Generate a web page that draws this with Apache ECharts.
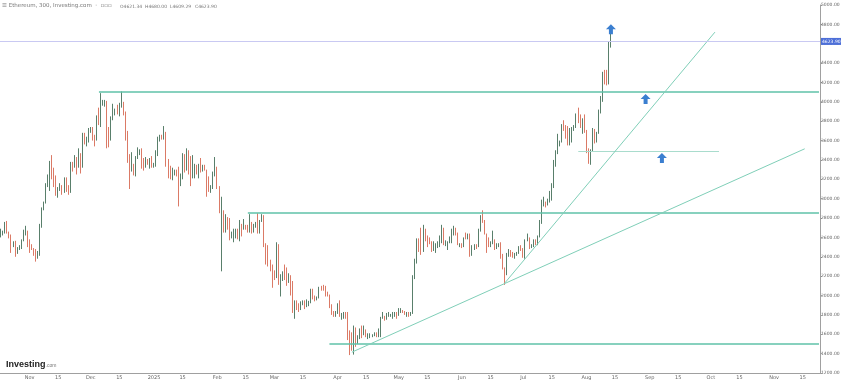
<!DOCTYPE html>
<html><head><meta charset="utf-8">
<script src="https://cdn.jsdelivr.net/npm/echarts@6/dist/echarts.min.js"></script>
<style>html,body{margin:0;padding:0;background:#fff}#c{width:841px;height:381px}</style>
</head><body><div id="c"></div>
<script>
// Daily candles [open, close, low, high]
const startDate = '2024-10-18';
const dayCount = 402; // categories on the axis (through Nov 2025)
const oct2024 = [[2610,2645,2600,2690],[2645,2650,2620,2670],[2650,2745,2640,2760],[2745,2665,2640,2770],[2665,2620,2590,2660],[2620,2525,2440,2630],[2525,2535,2500,2560],[2535,2440,2400,2565],[2440,2480,2430,2500],[2480,2510,2470,2520],[2510,2570,2480,2580],[2570,2640,2560,2680],[2640,2660,2620,2720],[2660,2520,2500,2670]];
const nov2024 = [[2520,2510,2440,2580],[2510,2490,2470,2530],[2490,2460,2410,2490],[2460,2400,2350,2480],[2400,2420,2380,2460],[2420,2720,2410,2740],[2720,2900,2700,2910],[2900,2960,2880,2970],[2960,3130,2950,3160],[3130,3180,3120,3250],[3180,3370,3080,3390],[3370,3240,3200,3450],[3240,3190,3120,3320],[3190,3060,3030,3240],[3060,3090,3010,3120],[3090,3130,3080,3160],[3130,3070,3040,3140],[3070,3200,3060,3220],[3200,3110,3070,3220],[3110,3070,3040,3140],[3070,3350,3060,3380],[3350,3330,3280,3380],[3330,3390,3320,3450],[3390,3360,3250,3430],[3360,3420,3320,3520],[3420,3330,3260,3470],[3330,3650,3320,3680],[3650,3590,3560,3680],[3590,3590,3540,3640],[3590,3700,3580,3730]];
const dec2024 = [[3700,3710,3680,3740],[3710,3640,3600,3740],[3640,3620,3540,3660],[3620,3840,3600,3860],[3840,3790,3760,3940],[3790,4000,3740,4090],[4000,4000,3960,4020],[4000,4010,3950,4020],[4010,3710,3520,4010],[3710,3630,3530,3740],[3630,3830,3600,3850],[3830,3880,3810,3980],[3880,3900,3860,3930],[3900,3880,3870,3970],[3880,3960,3850,3990],[3960,3980,3940,4107],[3980,3880,3860,4000],[3880,3620,3600,3900],[3620,3420,3370,3700],[3420,3290,3100,3460],[3290,3330,3280,3480],[3330,3280,3240,3360],[3280,3420,3230,3440],[3420,3490,3410,3530],[3490,3490,3450,3510],[3490,3340,3310,3520],[3340,3330,3290,3420],[3330,3400,3320,3430],[3400,3360,3350,3410],[3360,3360,3310,3420],[3360,3330,3320,3440]];
const jan2025 = [[3330,3350,3320,3370],[3350,3450,3330,3500],[3450,3610,3440,3640],[3610,3650,3590,3660],[3650,3630,3610,3660],[3630,3690,3610,3750],[3690,3380,3330,3690],[3380,3330,3210,3410],[3330,3220,3200,3340],[3220,3270,3190,3320],[3270,3280,3240,3300],[3280,3270,3230,3300],[3270,3140,2920,3330],[3140,3230,3130,3260],[3230,3450,3200,3470],[3450,3300,3270,3460],[3300,3470,3290,3520],[3470,3300,3250,3500],[3300,3210,3130,3440],[3210,3280,3210,3450],[3280,3340,3210,3360],[3340,3260,3250,3350],[3260,3330,3210,3360],[3330,3290,3270,3420],[3290,3320,3280,3350],[3320,3290,3290,3350],[3290,3180,3020,3300],[3180,3080,3070,3230],[3080,3120,3060,3140],[3120,3250,3100,3280],[3250,3300,3230,3430]];
const feb2025 = [[3300,3120,3100,3330],[3120,2870,2850,3130],[2870,2880,2250,3020],[2880,2730,2650,2880],[2730,2790,2650,2840],[2790,2690,2680,2810],[2690,2620,2570,2800],[2620,2630,2590,2660],[2630,2630,2550,2690],[2630,2660,2590,2690],[2660,2610,2580,2690],[2610,2730,2560,2780],[2730,2680,2610,2740],[2680,2720,2680,2790],[2720,2690,2680,2730],[2690,2660,2650,2730],[2660,2740,2650,2840],[2740,2670,2640,2760],[2670,2720,2650,2740],[2720,2740,2700,2760],[2740,2660,2640,2850],[2660,2770,2640,2780],[2770,2820,2760,2840],[2820,2510,2500,2830],[2510,2490,2320,2540],[2490,2330,2300,2520],[2330,2310,2250,2370],[2310,2240,2080,2320]];
const mar2025 = [[2240,2220,2160,2260],[2220,2520,2180,2550],[2520,2160,2110,2530],[2160,2170,1990,2220],[2170,2240,2150,2250],[2240,2210,2160,2320],[2210,2140,2100,2290],[2140,2200,2130,2230],[2200,2020,2000,2210],[2020,1860,1820,2150],[1860,1920,1760,1950],[1920,1910,1850,1950],[1910,1860,1830,1920],[1860,1910,1850,1940],[1910,1940,1900,1950],[1940,1890,1860,1950],[1890,1930,1880,1960],[1930,1930,1890,1945],[1930,2060,1920,2070],[2060,1980,1960,2070],[1980,1960,1940,2000],[1960,1980,1950,1990],[1980,2090,1970,2090],[2090,2080,2050,2100],[2080,2070,2050,2110],[2070,2010,1990,2100],[2010,2000,1990,2040],[2000,1900,1870,2010],[1900,1830,1800,1910],[1830,1800,1780,1840],[1800,1820,1780,1840]];
const apr2025 = [[1820,1900,1810,1920],[1900,1800,1780,1950],[1800,1810,1750,1820],[1810,1810,1760,1830],[1810,1790,1760,1830],[1790,1580,1540,1830],[1580,1550,1385,1640],[1550,1470,1430,1620],[1470,1670,1390,1690],[1670,1520,1470,1670],[1520,1570,1500,1590],[1570,1650,1550,1660],[1650,1600,1560,1690],[1600,1620,1590,1690],[1620,1580,1570,1650],[1580,1580,1550,1610],[1580,1580,1560,1610],[1580,1590,1570,1600],[1590,1610,1580,1620],[1610,1580,1570,1620],[1580,1580,1570,1660],[1580,1760,1570,1780],[1760,1790,1760,1830],[1790,1770,1740,1790],[1770,1790,1750,1820],[1790,1790,1780,1830],[1790,1790,1780,1810],[1790,1800,1760,1830],[1800,1800,1780,1830],[1800,1790,1760,1830]];
const may2025 = [[1790,1840,1790,1870],[1840,1840,1820,1870],[1840,1830,1820,1850],[1830,1810,1800,1840],[1810,1820,1780,1830],[1820,1810,1780,1830],[1810,1810,1790,1830],[1810,2200,1810,2210],[2200,2350,2170,2380],[2350,2580,2330,2590],[2580,2510,2450,2590],[2510,2500,2420,2700],[2500,2680,2450,2730],[2680,2610,2560,2690],[2610,2550,2500,2620],[2550,2540,2530,2600],[2540,2480,2450,2560],[2480,2480,2460,2560],[2480,2520,2440,2540],[2520,2520,2490,2560],[2520,2550,2500,2620],[2550,2660,2540,2730],[2660,2530,2520,2700],[2530,2530,2510,2570],[2530,2550,2470,2560],[2550,2560,2540,2610],[2560,2660,2540,2690],[2660,2680,2620,2720],[2680,2630,2620,2700],[2630,2530,2520,2650],[2530,2530,2500,2540]];
const jun2025 = [[2530,2510,2490,2540],[2510,2600,2500,2600],[2600,2590,2580,2650],[2590,2610,2580,2640],[2610,2420,2400,2640],[2420,2480,2410,2520],[2480,2520,2470,2530],[2520,2510,2480,2530],[2510,2680,2500,2690],[2680,2820,2660,2830],[2820,2770,2750,2880],[2770,2640,2630,2780],[2640,2580,2440,2640],[2580,2530,2500,2600],[2530,2550,2500,2560],[2550,2550,2530,2670],[2550,2510,2470,2580],[2510,2520,2480,2540],[2520,2520,2500,2540],[2520,2410,2380,2550],[2410,2290,2270,2430],[2290,2230,2110,2290],[2230,2420,2210,2440],[2420,2450,2400,2480],[2450,2420,2400,2470],[2420,2410,2390,2450],[2410,2430,2380,2440],[2430,2440,2410,2450],[2440,2500,2430,2510],[2500,2480,2460,2520]];
const jul2025 = [[2480,2400,2390,2490],[2400,2570,2380,2580],[2570,2590,2560,2640],[2590,2510,2480,2600],[2510,2510,2490,2530],[2510,2570,2500,2580],[2570,2540,2520,2580],[2540,2610,2520,2620],[2610,2770,2600,2780],[2770,2950,2740,2990],[2950,2950,2920,3020],[2950,2940,2910,2970],[2940,2970,2930,3000],[2970,3010,2960,3080],[3010,3140,2980,3160],[3140,3380,3110,3400],[3380,3480,3330,3500],[3480,3550,3460,3670],[3550,3590,3540,3600],[3590,3760,3580,3770],[3760,3750,3700,3810],[3750,3740,3620,3760],[3740,3630,3550,3750],[3630,3710,3550,3730],[3710,3720,3580,3740],[3720,3740,3700,3760],[3740,3870,3730,3880],[3870,3800,3780,3940],[3800,3790,3730,3870],[3790,3810,3670,3830],[3810,3700,3680,3870]];
const aug2025 = [[3700,3480,3470,3710],[3480,3400,3360,3520],[3400,3500,3350,3510],[3500,3720,3490,3730],[3720,3610,3570,3720],[3610,3680,3580,3690],[3680,3910,3670,3920],[3910,4010,3880,4060],[4010,4260,4000,4310],[4260,4240,4180,4330],[4240,4220,4170,4330],[4220,4600,4180,4620],[4600,4623.9,4560,4710]];

const monthNames = ['Jan','Feb','Mar','Apr','May','Jun','Jul','Aug','Sep','Oct','Nov','Dec'];
const yMin = 1200, yMax = 5000, yStep = 200;
const lastClose = 4623.90;
const titleText = 'Ethereum, 300, Investing.com';
const ohlcItems = ['O4621.34','H4680.00','L4609.29','C4623.90'];

// Drawn annotations (date, price)
const hLevels = [
  {from:'2024-12-05', price:4100},
  {from:'2025-02-16', price:2850},
  {from:'2025-03-28', price:1505}
];
const shortLevel = {from:'2025-07-28', to:'2025-10-05', price:3485};
const trendLines = [
  {from:['2025-04-08',1415], to:['2025-11-16',3515]},
  {from:['2025-06-22',2130], to:['2025-10-03',4720]}
];
const arrows = [['2025-08-13',4750],['2025-08-30',4030],['2025-09-07',3420]];

function fmt(d){const m=d.getUTCMonth()+1, dd=d.getUTCDate();return d.getUTCFullYear()+'-'+(m<10?'0':'')+m+'-'+(dd<10?'0':'')+dd;}
const categories = [];
{const s = new Date(startDate+'T00:00:00Z'); for(let i=0;i<dayCount;i++){categories.push(fmt(new Date(s.getTime()+i*86400000)));}}
const candles = [].concat(oct2024,nov2024,dec2024,jan2025,feb2025,mar2025,apr2025,may2025,jun2025,jul2025,aug2025);
const lastCat = categories[categories.length-1];

const teal = '#5fc2a8';
const markLines = [];
hLevels.forEach(l=>markLines.push([{coord:[l.from,l.price],lineStyle:{color:teal,width:1.6,type:'solid'}},{coord:[lastCat,l.price]}]));
markLines.push([{coord:[shortLevel.from,shortLevel.price],lineStyle:{color:'#a9dccd',width:1,type:'solid'}},{coord:[shortLevel.to,shortLevel.price]}]);
trendLines.forEach(t=>markLines.push([{coord:t.from,lineStyle:{color:'#7fcfb8',width:1,type:'solid'}},{coord:t.to}]));
markLines.push({yAxis:lastClose,lineStyle:{color:'#c9c9f2',width:1,type:'solid'},label:{show:true,position:'end',distance:1,formatter:lastClose.toFixed(2),color:'#fff',backgroundColor:'#4d6fd8',fontSize:4.5,padding:[1,1],fontFamily:'DejaVu Sans'}});

const ohlcGraphics = ohlcItems.map((t,i)=>({type:'text',left:120+i*25,top:4,style:{text:t,fontSize:4.5,fill:'#777',fontFamily:'DejaVu Sans'}}));

const chart = echarts.init(document.getElementById('c'),null,{renderer:'canvas'});
chart.setOption({
  animation:false,
  backgroundColor:'#fff',
  grid:{left:0,right:21,top:5,bottom:8,containLabel:false,outerBoundsMode:'none'},
  xAxis:{type:'category',data:categories,boundaryGap:true,
    axisLine:{show:true,lineStyle:{color:'#a0a0a0',width:1}},
    axisTick:{show:false},splitLine:{show:false},
    axisLabel:{fontSize:5,color:'#666',margin:2,fontFamily:'DejaVu Sans',
      interval:(i,v)=>{const d=+v.slice(8);return d===1||d===15;},
      formatter:(v)=>{const d=+v.slice(8),m=+v.slice(5,7);if(d===15)return '15';return m===1?v.slice(0,4):monthNames[m-1];}}},
  yAxis:{type:'value',position:'right',min:yMin,max:yMax,interval:yStep,
    axisLine:{show:true,lineStyle:{color:'#a0a0a0',width:1}},
    axisTick:{show:true,length:2,lineStyle:{color:'#a0a0a0'}},
    splitLine:{show:false},
    axisLabel:{fontSize:4.5,color:'#666',margin:1,fontFamily:'DejaVu Sans',formatter:v=>v.toFixed(2)}},
  graphic:[
    {type:'text',left:2,top:3,style:{text:'☰ '+titleText+'  ·  ▫▫▫',fontSize:5.5,fill:'#777',fontFamily:'DejaVu Sans'}},
    ...ohlcGraphics,
    {type:'text',left:6,top:360,style:{text:'{a|Investing}{b|.com}',rich:{a:{fontSize:9,fontWeight:'bold',fill:'#222',fontFamily:'Liberation Sans'},b:{fontSize:5,fill:'#777',fontFamily:'Liberation Sans',padding:[2,0,0,0]}}}}
  ],
  series:[{
    type:'candlestick',data:candles,barMaxWidth:1.4,
    itemStyle:{color:'#3d9e68',color0:'#e5654a',borderColor:'#2f5e45',borderColor0:'#d2583f',borderWidth:0.8},
    markLine:{silent:true,symbol:'none',animation:false,label:{show:false},data:markLines},
    markPoint:{silent:true,animation:false,symbol:'path://M5,0 L10,5 L7,5 L7,10 L3,10 L3,5 L0,5 Z',symbolSize:[10,10],
      itemStyle:{color:'#3b7fd0'},label:{show:false},
      data:arrows.map(a=>({coord:a}))}
  }]
});
</script></body></html>
